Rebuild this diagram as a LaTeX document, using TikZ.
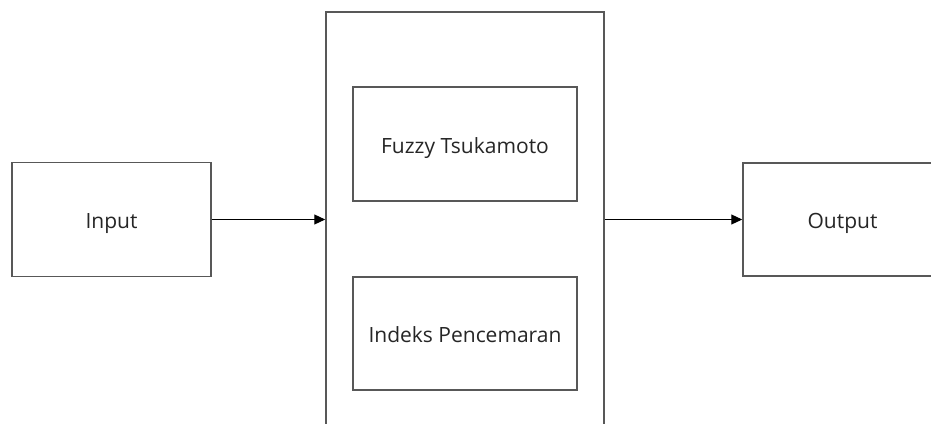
\documentclass[tikz,border=0pt]{standalone}
\usepackage{fontspec}
\setmainfont{Open Sans}
\usetikzlibrary{arrows.meta}
\definecolor{boxline}{RGB}{88,88,88}
\begin{document}
\begin{tikzpicture}[x=1pt,y=-1pt,
  block/.style={draw=boxline, line width=1.5pt, rectangle, inner sep=0pt,
    font=\fontsize{21}{24}\selectfont, text=black!85,
    text height=18pt, text depth=0pt},
  flow/.style={draw=black, line width=1.1pt, -{Triangle[length=11pt,width=10pt]}}]
\useasboundingbox (0,0) rectangle (931,423);
\clip (0,0) rectangle (931,423);
\fill[white] (0,0) rectangle (931,423);
% main blocks
\node[block, minimum width=199, minimum height=114] (input) at (111.5,219.5) {Input};
\node[block, minimum width=278, minimum height=440] (core) at (465,232) {};
\node[block, minimum width=224, minimum height=114] (fuzzy) at (465,144) {Fuzzy Tsukamoto};
\node[block, minimum width=224, minimum height=113] (ip) at (465,333.5) {Indeks Pencemaran};
\node[block, minimum width=199, minimum height=113] (output) at (842.5,219.5) {Output};
% connectors
\draw[flow] (input.east) -- (input.east -| core.west);
\draw[flow] (output.west -| core.east) -- (output.west);
\end{tikzpicture}
\end{document}
